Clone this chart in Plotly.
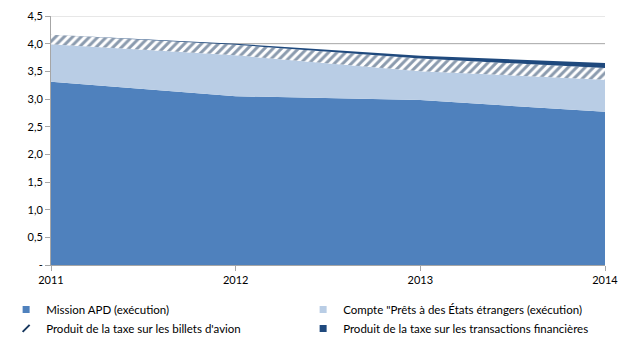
import plotly.graph_objects as go

years = [2011, 2012, 2013, 2014]
mission_apd = [3.31, 3.05, 2.98, 2.77]
prets_etats = [0.68, 0.74, 0.52, 0.58]
taxe_avion = [0.17, 0.19, 0.23, 0.21]
taxe_ftt = [0.0, 0.02, 0.05, 0.09]

y_ticks = [0, 0.5, 1.0, 1.5, 2.0, 2.5, 3.0, 3.5, 4.0, 4.5]
y_labels = ["-", "0,5", "1,0", "1,5", "2,0", "2,5", "3,0", "3,5", "4,0", "4,5"]

names = ["Mission APD (exécution)",
         "Compte \"Prêts à des États étrangers (exécution)",
         "Produit de la taxe sur les billets d'avion",
         "Produit de la taxe sur les transactions financières"]

FONT = "Lato"
C_APD = "#4F81BD"
C_PRETS = "#B9CDE5"
C_HATCH = "#17375E"
C_FTT = "#1F497D"

fig = go.Figure()
fig.add_trace(go.Scatter(x=years, y=mission_apd, name=names[0], showlegend=False,
                         stackgroup="s", mode="lines", line=dict(width=0, color=C_APD),
                         fillcolor=C_APD))
fig.add_trace(go.Scatter(x=years, y=prets_etats, name=names[1], showlegend=False,
                         stackgroup="s", mode="lines", line=dict(width=0, color=C_PRETS),
                         fillcolor=C_PRETS))
fig.add_trace(go.Scatter(x=years, y=taxe_avion, name=names[2], showlegend=False,
                         stackgroup="s", mode="lines", line=dict(width=0, color=C_HATCH),
                         fillcolor="white",
                         fillpattern=dict(shape="/", fgcolor=C_HATCH, bgcolor="white",
                                          size=6, solidity=0.5)))
fig.add_trace(go.Scatter(x=years, y=taxe_ftt, name=names[3], showlegend=False,
                         stackgroup="s", mode="lines", line=dict(width=0, color=C_FTT),
                         fillcolor=C_FTT))

leg_markers = [
    dict(symbol="square", size=7, color=C_APD),
    dict(symbol="square", size=7, color=C_PRETS),
    dict(symbol="line-ne", size=7, color=C_HATCH, line=dict(width=2, color=C_HATCH)),
    dict(symbol="square", size=7, color=C_FTT),
]
for nm, mk in zip(names, leg_markers):
    fig.add_trace(go.Scatter(x=[None], y=[None], mode="markers", name=nm, marker=mk,
                             showlegend=True, hoverinfo="skip"))

fig.add_shape(type="line", xref="x", yref="y", x0=2011, x1=2014, y0=4.5, y1=4.5,
              line=dict(color="#D0D0D0", width=1), layer="below")
fig.add_shape(type="line", xref="x", yref="y", x0=2011, x1=2014, y0=4.0, y1=4.0,
              line=dict(color="#A6A6A6", width=1), layer="below")

fig.update_layout(
    width=634, height=353,
    margin=dict(l=51, r=29, t=16, b=88, autoexpand=False),
    paper_bgcolor="white", plot_bgcolor="white",
    font=dict(family=FONT, size=11, color="#000000"),
    showlegend=True,
    legend=dict(orientation="h", xref="paper", yref="paper",
                x=-0.081, xanchor="left", y=-0.12, yanchor="top",
                entrywidth=252, entrywidthmode="pixels", traceorder="normal",
                font=dict(family=FONT, size=11.5), tracegroupgap=0, itemwidth=30,
                bgcolor="rgba(0,0,0,0)"),
)
fig.update_xaxes(range=[2011, 2014], tickvals=years, ticktext=[str(y) for y in years],
                 showgrid=False, showline=True, linecolor="#A6A6A6", linewidth=1,
                 ticks="outside", ticklen=5, tickcolor="#A6A6A6", zeroline=False,
                 tickfont=dict(family=FONT, size=11))
fig.update_yaxes(range=[0, 4.5], tickvals=y_ticks, ticktext=y_labels,
                 showgrid=False, showline=True, linecolor="#A6A6A6", linewidth=1,
                 ticks="outside", ticklen=5, tickcolor="#A6A6A6", zeroline=False,
                 tickfont=dict(family=FONT, size=11))

fig.write_html("out.html")
